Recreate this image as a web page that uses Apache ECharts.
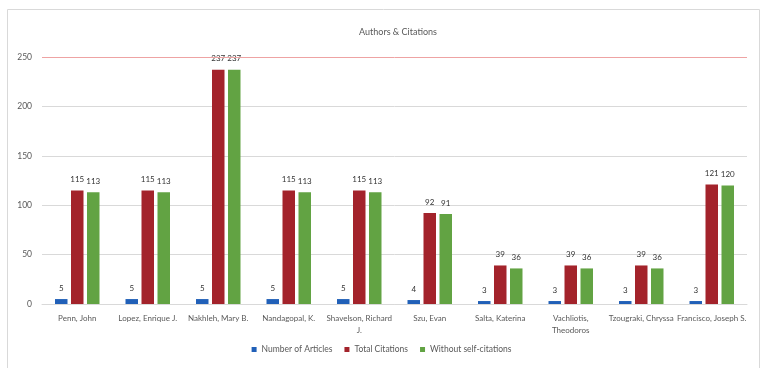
<!DOCTYPE html>
<html>
<head>
<meta charset="utf-8">
<script src="https://cdn.jsdelivr.net/npm/echarts@6/dist/echarts.min.js"></script>
<style>
  html, body { margin: 0; padding: 0; background: #fff; }
  #chart { width: 763px; height: 368px; }
</style>
</head>
<body>
<div id="chart"></div>
<script>
// Data
const authors = ['Penn, John', 'Lopez, Enrique J.', 'Nakhleh, Mary B.', 'Nandagopal, K.', 'Shavelson, Richard J.',
    'Szu, Evan', 'Salta, Katerina', 'Vachliotis, Theodoros', 'Tzougraki, Chryssa', 'Francisco, Joseph S.'];
const articles = [5, 5, 5, 5, 5, 4, 3, 3, 3, 3];
const totalCitations = [115, 115, 237, 115, 115, 92, 39, 39, 39, 121];
const withoutSelf = [113, 113, 237, 113, 113, 91, 36, 36, 36, 120];
const yTicks = [0, 50, 100, 150, 200, 250];

// labels that wrap onto two lines in the original
const wrapped = {
    'Shavelson, Richard J.': 'Shavelson, Richard\nJ.',
    'Vachliotis, Theodoros': 'Vachliotis,\nTheodoros'
};

const font = 'Lato, "Open Sans", sans-serif';
const txt = '#595959';

const chart = echarts.init(document.getElementById('chart'));

const labelStyle = {
    show: true, position: 'top', distance: 7,
    color: '#333', fontSize: 8, fontFamily: font, fontWeight: 'normal'
};

chart.setOption({
    animation: false,
    textStyle: { fontFamily: font },
    title: {
        text: 'Authors & Citations', left: 393, top: 23, textAlign: 'center',
        textStyle: { color: txt, fontSize: 9, fontWeight: 'normal', fontFamily: font }
    },
    graphic: [{
        type: 'rect', silent: true,
        shape: { x: 7.5, y: 9.5, width: 752, height: 380 },
        style: { fill: 'none', stroke: '#d9d9d9', lineWidth: 1 }
    }],
    legend: {
        bottom: 9, left: 'center', itemWidth: 5, itemHeight: 5, itemGap: 12,
        icon: 'rect',
        textStyle: { color: txt, fontSize: 8.5, fontFamily: font },
        data: ['Number of Articles', 'Total Citations', 'Without self-citations']
    },
    grid: { left: 42, right: 16, top: 57, bottom: 64 },
    xAxis: {
        type: 'category', data: authors,
        axisTick: { show: false },
        axisLine: { lineStyle: { color: '#d9d9d9' } },
        axisLabel: {
            color: txt, fontSize: 8, fontFamily: font, interval: 0, margin: 8, lineHeight: 12,
            formatter: v => wrapped[v] || v
        }
    },
    yAxis: {
        type: 'value', min: yTicks[0], max: yTicks[yTicks.length - 1], interval: 50,
        axisLine: { show: false }, axisTick: { show: false },
        axisLabel: { color: txt, fontSize: 8.5, fontFamily: font, margin: 10 },
        splitLine: { showMaxLine: false, lineStyle: { color: '#d9d9d9', width: 1 } }
    },
    series: [
        { name: 'Number of Articles', type: 'bar', data: articles, barWidth: 12.5, barGap: '28%', barCategoryGap: '37%',
          itemStyle: { color: '#2160b8' }, label: labelStyle,
          // the top gridline is drawn reddish in the original
          markLine: {
              silent: true, symbol: ['none', 'none'], label: { show: false },
              lineStyle: { color: '#eea3a3', type: 'solid', width: 1, opacity: 1 },
              emphasis: { disabled: true },
              data: [{ yAxis: yTicks[yTicks.length - 1] }]
          } },
        { name: 'Total Citations', type: 'bar', data: totalCitations, barWidth: 12.5,
          itemStyle: { color: '#a3232b' }, label: labelStyle },
        { name: 'Without self-citations', type: 'bar', data: withoutSelf, barWidth: 12.5,
          itemStyle: { color: '#62a343' }, label: labelStyle }
    ]
});

window.addEventListener('resize', () => chart.resize());
</script>
</body>
</html>
